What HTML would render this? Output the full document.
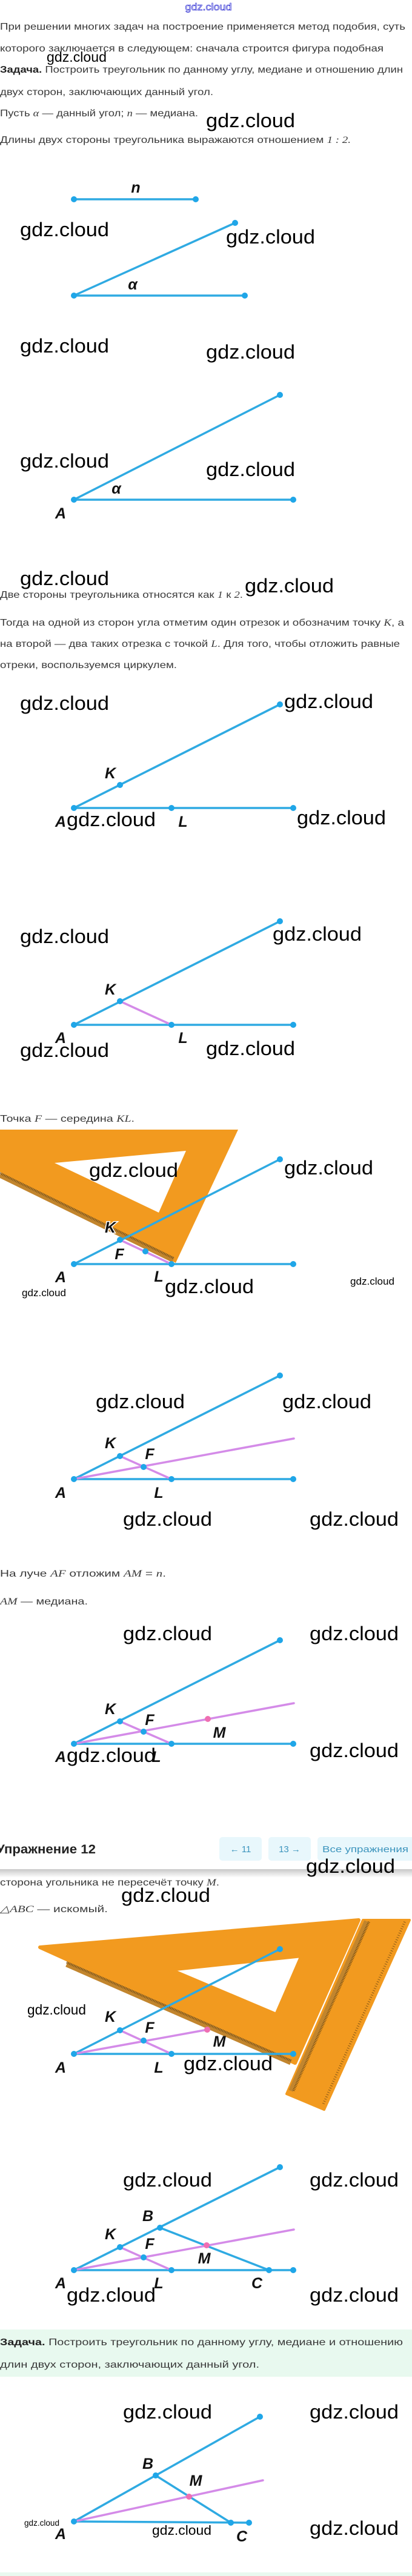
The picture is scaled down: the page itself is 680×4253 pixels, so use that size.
<!DOCTYPE html>
<html><head><meta charset="utf-8"><style>
html,body{margin:0;padding:0;background:#fff;}
svg{display:block;}
.t{font-family:"Liberation Sans","Noto Sans CJK SC",sans-serif;font-size:16px;fill:#3a3a3a;}
.m{font-family:"Liberation Serif",serif;font-style:italic;}
.w{font-family:"Liberation Sans",sans-serif;font-size:32px;fill:#000;}
.ws{font-family:"Liberation Sans",sans-serif;fill:#000;}
.lb{font-family:"Liberation Sans",sans-serif;font-style:italic;font-weight:bold;font-size:25px;fill:#111;text-anchor:middle;}
.b{stroke:#2faae2;stroke-width:3.5;stroke-linecap:round;fill:none;}
.p{stroke:#d48be8;stroke-width:3.5;stroke-linecap:round;fill:none;}
.d{fill:#1fa6e8;}
.pm{fill:#ef6fb2;}
</style></head><body>
<svg width="680" height="4253" viewBox="0 0 680 4253" xmlns="http://www.w3.org/2000/svg">
<rect width="680" height="4253" fill="#fff"/>

<text x="344" y="17" text-anchor="middle" style="font-family:'Liberation Sans',sans-serif;font-size:17px;fill:#fff;stroke:#3b3bd6;stroke-width:0.8" textLength="77" lengthAdjust="spacingAndGlyphs">gdz.cloud</text>

<text class="t" x="0" y="49" textLength="669" lengthAdjust="spacingAndGlyphs">При решении многих задач на построение применяется метод подобия, суть</text>
<text class="t" x="0" y="85" textLength="633" lengthAdjust="spacingAndGlyphs">которого заключается в следующем: сначала строится фигура подобная</text>
<text class="t" x="0" y="120" textLength="665" lengthAdjust="spacingAndGlyphs"><tspan font-weight="bold" fill="#222">Задача.</tspan> Построить треугольник по данному углу, медиане и отношению длин</text>
<text class="t" x="0" y="157" textLength="352" lengthAdjust="spacingAndGlyphs">двух сторон, заключающих данный угол.</text>
<text class="t" x="0" y="192" textLength="327" lengthAdjust="spacingAndGlyphs">Пусть <tspan class="m">α</tspan> — данный угол; <tspan class="m">n</tspan> — медиана.</text>
<text class="t" x="0" y="236" textLength="579" lengthAdjust="spacingAndGlyphs">Длины двух стороны треугольника выражаются отношением <tspan class="m" font-style="normal">1 : 2.</tspan></text>

<line class="b" x1="122" y1="329" x2="323" y2="329"/>
<circle class="d" cx="122" cy="329" r="5"/><circle class="d" cx="323" cy="329" r="5"/>
<text class="lb" x="224" y="318">n</text>
<line class="b" x1="122" y1="488" x2="404" y2="488"/>
<line class="b" x1="122" y1="488" x2="388" y2="368"/>
<circle class="d" cx="122" cy="488" r="5"/><circle class="d" cx="404" cy="488" r="5"/><circle class="d" cx="388" cy="368" r="5"/>
<text class="lb" x="219" y="478">α</text>

<line class="b" x1="122" y1="825" x2="484" y2="825"/>
<line class="b" x1="122" y1="825" x2="462" y2="652"/>
<circle class="d" cx="122" cy="825" r="5"/><circle class="d" cx="484" cy="825" r="5"/><circle class="d" cx="462" cy="652" r="5"/>
<text class="lb" x="192" y="815">α</text>
<text class="lb" x="100" y="856">A</text>

<text class="t" x="0" y="987" textLength="401" lengthAdjust="spacingAndGlyphs">Две стороны треугольника относятся как <tspan class="m" font-style="normal">1</tspan> к <tspan class="m" font-style="normal">2</tspan>.</text>
<text class="t" x="0" y="1033" textLength="667" lengthAdjust="spacingAndGlyphs">Тогда на одной из сторон угла отметим один отрезок и обозначим точку <tspan class="m">K</tspan>, а</text>
<text class="t" x="0" y="1068" textLength="660" lengthAdjust="spacingAndGlyphs">на второй — два таких отрезка с точкой <tspan class="m">L</tspan>. Для того, чтобы отложить равные</text>
<text class="t" x="0" y="1103" textLength="292" lengthAdjust="spacingAndGlyphs">отреки, воспользуемся циркулем.</text>

<line class="b" x1="122" y1="1334" x2="484" y2="1334"/>
<line class="b" x1="122" y1="1334" x2="462" y2="1163"/>
<circle class="d" cx="122" cy="1334" r="5"/><circle class="d" cx="283" cy="1334" r="5"/><circle class="d" cx="484" cy="1334" r="5"/><circle class="d" cx="462" cy="1163" r="5"/><circle class="d" cx="198" cy="1296" r="5"/>
<text class="lb" x="182" y="1285">K</text>
<text class="lb" x="100" y="1365">A</text>
<text class="lb" x="302" y="1365">L</text>

<line class="b" x1="122" y1="1692" x2="484" y2="1692"/>
<line class="b" x1="122" y1="1692" x2="462" y2="1521"/>
<line class="p" x1="198" y1="1653" x2="283" y2="1692"/>
<circle class="d" cx="122" cy="1692" r="5"/><circle class="d" cx="283" cy="1692" r="5"/><circle class="d" cx="484" cy="1692" r="5"/><circle class="d" cx="462" cy="1521" r="5"/><circle class="d" cx="198" cy="1653" r="5"/>
<text class="lb" x="182" y="1642">K</text>
<text class="lb" x="100" y="1722">A</text>
<text class="lb" x="302" y="1722">L</text>

<text class="t" x="0" y="1852" textLength="222" lengthAdjust="spacingAndGlyphs">Точка <tspan class="m">F</tspan> — середина <tspan class="m">KL</tspan>.</text>

<path d="M0,1865 L393,1865 L290,2085 L0,1935 Z M90,1920 L307,1900 L262,2002 Z" fill="#f29a1f" fill-rule="evenodd"/>
<line x1="0" y1="1940" x2="286" y2="2080" stroke="#c2852d" stroke-width="9"/>
<line x1="0" y1="1937" x2="286" y2="2077" stroke="#6d4a16" stroke-width="4" stroke-dasharray="1 1.6"/>
<line class="b" x1="122" y1="2087" x2="484" y2="2087"/>
<line class="b" x1="122" y1="2087" x2="462" y2="1914"/>
<line class="p" x1="198" y1="2047" x2="283" y2="2087"/>
<circle class="d" cx="122" cy="2087" r="5"/><circle class="d" cx="283" cy="2087" r="5"/><circle class="d" cx="484" cy="2087" r="5"/><circle class="d" cx="462" cy="1914" r="5"/><circle class="d" cx="198" cy="2047" r="5"/><circle class="d" cx="240" cy="2066" r="5"/>
<text class="lb" x="182" y="2035" stroke="#fff" stroke-width="3" paint-order="stroke">K</text>
<text class="lb" x="197" y="2079">F</text>
<text class="lb" x="100" y="2117">A</text>
<text class="lb" x="262" y="2116">L</text>

<line class="b" x1="122" y1="2442" x2="484" y2="2442"/>
<line class="b" x1="122" y1="2442" x2="462" y2="2271"/>
<line class="p" x1="122" y1="2442" x2="485" y2="2375"/>
<line class="p" x1="198" y1="2404" x2="283" y2="2442"/>
<circle class="d" cx="122" cy="2442" r="5"/><circle class="d" cx="283" cy="2442" r="5"/><circle class="d" cx="484" cy="2442" r="5"/><circle class="d" cx="462" cy="2271" r="5"/><circle class="d" cx="198" cy="2404" r="5"/><circle class="d" cx="237" cy="2422" r="5"/>
<text class="lb" x="182" y="2391">K</text>
<text class="lb" x="247" y="2409">F</text>
<text class="lb" x="100" y="2473">A</text>
<text class="lb" x="262" y="2473">L</text>

<text class="t" x="0" y="2603" textLength="274" lengthAdjust="spacingAndGlyphs">На луче <tspan class="m">AF</tspan> отложим <tspan class="m">AM</tspan> = <tspan class="m">n</tspan>.</text>
<text class="t" x="0" y="2649" textLength="145" lengthAdjust="spacingAndGlyphs"><tspan class="m">AM</tspan> — медиана.</text>

<line class="b" x1="122" y1="2879" x2="484" y2="2879"/>
<line class="b" x1="122" y1="2879" x2="462" y2="2708"/>
<line class="p" x1="122" y1="2879" x2="485" y2="2812"/>
<line class="p" x1="198" y1="2842" x2="283" y2="2879"/>
<circle class="d" cx="122" cy="2879" r="5"/><circle class="d" cx="283" cy="2879" r="5"/><circle class="d" cx="484" cy="2879" r="5"/><circle class="d" cx="462" cy="2708" r="5"/><circle class="d" cx="198" cy="2842" r="5"/><circle class="d" cx="237" cy="2859" r="5"/><circle class="pm" cx="343" cy="2838" r="5"/>
<text class="lb" x="182" y="2830">K</text>
<text class="lb" x="247" y="2848">F</text>
<text class="lb" x="362" y="2869">M</text>
<text class="lb" x="100" y="2909">A</text>
<text class="lb" x="258" y="2909">L</text>

<text x="-6" y="3060" style="font-family:'Liberation Sans',sans-serif;font-size:21px;font-weight:bold;fill:#222" textLength="164" lengthAdjust="spacingAndGlyphs">Упражнение 12</text>
<rect x="362" y="3033" width="70" height="39" rx="5" fill="#e8f7fc"/>
<rect x="443" y="3033" width="70" height="39" rx="5" fill="#e8f7fc"/>
<rect x="524" y="3033" width="160" height="39" rx="5" fill="#e8f7fc"/>
<g style="font-family:'Liberation Sans',sans-serif;font-size:15px;fill:#3c94bd">
<text x="397" y="3058" text-anchor="middle">← 11</text>
<text x="478" y="3058" text-anchor="middle">13 →</text>
<text x="532" y="3058" textLength="142" lengthAdjust="spacingAndGlyphs">Все упражнения</text>
</g>
<defs><linearGradient id="sh" x1="0" y1="0" x2="0" y2="1"><stop offset="0" stop-color="#c8c8c8"/><stop offset="1" stop-color="#fff"/></linearGradient></defs>
<rect x="0" y="3086" width="680" height="14" fill="url(#sh)"/>

<text class="t" x="0" y="3113" textLength="362" lengthAdjust="spacingAndGlyphs">сторона угольника не пересечёт точку <tspan class="m">M</tspan>.</text>
<text class="t" x="0" y="3157" textLength="178" lengthAdjust="spacingAndGlyphs"><tspan class="m">△ABC</tspan> — искомый.</text>

<path d="M66,3215 L592,3170 L487,3406 Z M281,3252 L498,3229 L456,3326 Z" fill="#f29a1f" fill-rule="evenodd" stroke="#f29a1f" stroke-width="6" stroke-linejoin="round"/>
<line x1="110" y1="3243" x2="480" y2="3405" stroke="#c2852d" stroke-width="9"/>
<line x1="110" y1="3240" x2="480" y2="3402" stroke="#6d4a16" stroke-width="4" stroke-dasharray="1 1.6"/>
<path d="M599,3170 L676,3170 L535,3483 L473,3457 Z" fill="#f29a1f" stroke="#f29a1f" stroke-width="4" stroke-linejoin="round"/>
<line x1="605" y1="3172" x2="480" y2="3452" stroke="#c2852d" stroke-width="8"/>
<line x1="609" y1="3173" x2="484" y2="3453" stroke="#6d4a16" stroke-width="4" stroke-dasharray="1 1.6"/>
<line x1="668" y1="3173" x2="533" y2="3475" stroke="#8a5a18" stroke-width="4" stroke-dasharray="1 3"/>
<line class="b" x1="122" y1="3391" x2="484" y2="3391"/>
<line class="b" x1="122" y1="3391" x2="462" y2="3218"/>
<line class="p" x1="122" y1="3391" x2="342" y2="3351"/>
<line class="p" x1="198" y1="3352" x2="283" y2="3391"/>
<circle class="d" cx="122" cy="3391" r="5"/><circle class="d" cx="283" cy="3391" r="5"/><circle class="d" cx="484" cy="3391" r="5"/><circle class="d" cx="462" cy="3218" r="5"/><circle class="d" cx="198" cy="3352" r="5"/><circle class="d" cx="237" cy="3369" r="5"/><circle class="pm" cx="342" cy="3351" r="5"/>
<text class="lb" x="182" y="3338">K</text>
<text class="lb" x="247" y="3356">F</text>
<text class="lb" x="362" y="3379">M</text>
<text class="lb" x="100" y="3422">A</text>
<text class="lb" x="262" y="3422">L</text>

<line class="b" x1="122" y1="3748" x2="484" y2="3748"/>
<line class="b" x1="122" y1="3748" x2="462" y2="3578"/>
<line class="b" x1="264" y1="3678" x2="444" y2="3748"/>
<line class="p" x1="122" y1="3748" x2="485" y2="3681"/>
<line class="p" x1="198" y1="3710" x2="283" y2="3748"/>
<circle class="d" cx="122" cy="3748" r="5"/><circle class="d" cx="283" cy="3748" r="5"/><circle class="d" cx="444" cy="3748" r="5"/><circle class="d" cx="484" cy="3748" r="5"/><circle class="d" cx="462" cy="3578" r="5"/><circle class="d" cx="198" cy="3710" r="5"/><circle class="d" cx="237" cy="3727" r="5"/><circle class="d" cx="264" cy="3678" r="5"/><circle class="pm" cx="341" cy="3707" r="5"/>
<text class="lb" x="244" y="3667">B</text>
<text class="lb" x="182" y="3697">K</text>
<text class="lb" x="247" y="3713">F</text>
<text class="lb" x="337" y="3737">M</text>
<text class="lb" x="100" y="3778">A</text>
<text class="lb" x="262" y="3778">L</text>
<text class="lb" x="424" y="3778">C</text>

<rect x="0" y="3846" width="680" height="78" fill="#e8f9ef"/>
<text class="t" x="0" y="3872" textLength="665" lengthAdjust="spacingAndGlyphs"><tspan font-weight="bold" fill="#222">Задача.</tspan> Построить треугольник по данному углу, медиане и отношению</text>
<text class="t" x="0" y="3909" textLength="428" lengthAdjust="spacingAndGlyphs">длин двух сторон, заключающих данный угол.</text>

<line class="b" x1="122" y1="4163" x2="411" y2="4165"/>
<line class="b" x1="122" y1="4163" x2="429" y2="3990"/>
<line class="b" x1="257" y1="4087" x2="381" y2="4165"/>
<line class="p" x1="122" y1="4163" x2="434" y2="4095"/>
<circle class="d" cx="122" cy="4163" r="5"/><circle class="d" cx="381" cy="4165" r="5"/><circle class="d" cx="411" cy="4165" r="5"/><circle class="d" cx="429" cy="3990" r="5"/><circle class="d" cx="257" cy="4087" r="5"/><circle class="pm" cx="312" cy="4122" r="5"/>
<text class="lb" x="244" y="4076">B</text>
<text class="lb" x="323" y="4104">M</text>
<text class="lb" x="100" y="4192">A</text>
<text class="lb" x="399" y="4196">C</text>

<rect x="0" y="4247" width="680" height="6" fill="#e8f9ef"/>

<g class="w">
<text x="340" y="210" textLength="147" lengthAdjust="spacingAndGlyphs">gdz.cloud</text>
<text x="33" y="390" textLength="147" lengthAdjust="spacingAndGlyphs">gdz.cloud</text>
<text x="373" y="402" textLength="147" lengthAdjust="spacingAndGlyphs">gdz.cloud</text>
<text x="33" y="582" textLength="147" lengthAdjust="spacingAndGlyphs">gdz.cloud</text>
<text x="340" y="592" textLength="147" lengthAdjust="spacingAndGlyphs">gdz.cloud</text>
<text x="33" y="772" textLength="147" lengthAdjust="spacingAndGlyphs">gdz.cloud</text>
<text x="340" y="786" textLength="147" lengthAdjust="spacingAndGlyphs">gdz.cloud</text>
<text x="33" y="966" textLength="147" lengthAdjust="spacingAndGlyphs">gdz.cloud</text>
<text x="404" y="978" textLength="147" lengthAdjust="spacingAndGlyphs">gdz.cloud</text>
<text x="33" y="1172" textLength="147" lengthAdjust="spacingAndGlyphs">gdz.cloud</text>
<text x="469" y="1169" textLength="147" lengthAdjust="spacingAndGlyphs">gdz.cloud</text>
<text x="110" y="1364" textLength="147" lengthAdjust="spacingAndGlyphs">gdz.cloud</text>
<text x="490" y="1361" textLength="147" lengthAdjust="spacingAndGlyphs">gdz.cloud</text>
<text x="33" y="1557" textLength="147" lengthAdjust="spacingAndGlyphs">gdz.cloud</text>
<text x="450" y="1553" textLength="147" lengthAdjust="spacingAndGlyphs">gdz.cloud</text>
<text x="33" y="1745" textLength="147" lengthAdjust="spacingAndGlyphs">gdz.cloud</text>
<text x="340" y="1742" textLength="147" lengthAdjust="spacingAndGlyphs">gdz.cloud</text>
<text x="147" y="1943" textLength="147" lengthAdjust="spacingAndGlyphs">gdz.cloud</text>
<text x="469" y="1939" textLength="147" lengthAdjust="spacingAndGlyphs">gdz.cloud</text>
<text x="272" y="2135" textLength="147" lengthAdjust="spacingAndGlyphs">gdz.cloud</text>
<text x="158" y="2325" textLength="147" lengthAdjust="spacingAndGlyphs">gdz.cloud</text>
<text x="466" y="2325" textLength="147" lengthAdjust="spacingAndGlyphs">gdz.cloud</text>
<text x="203" y="2519" textLength="147" lengthAdjust="spacingAndGlyphs">gdz.cloud</text>
<text x="511" y="2519" textLength="147" lengthAdjust="spacingAndGlyphs">gdz.cloud</text>
<text x="203" y="2708" textLength="147" lengthAdjust="spacingAndGlyphs">gdz.cloud</text>
<text x="511" y="2708" textLength="147" lengthAdjust="spacingAndGlyphs">gdz.cloud</text>
<text x="110" y="2909" textLength="147" lengthAdjust="spacingAndGlyphs">gdz.cloud</text>
<text x="511" y="2901" textLength="147" lengthAdjust="spacingAndGlyphs">gdz.cloud</text>
<text x="505" y="3092" textLength="147" lengthAdjust="spacingAndGlyphs">gdz.cloud</text>
<text x="200" y="3140" textLength="147" lengthAdjust="spacingAndGlyphs">gdz.cloud</text>
<text x="303" y="3418" textLength="147" lengthAdjust="spacingAndGlyphs">gdz.cloud</text>
<text x="203" y="3610" textLength="147" lengthAdjust="spacingAndGlyphs">gdz.cloud</text>
<text x="511" y="3610" textLength="147" lengthAdjust="spacingAndGlyphs">gdz.cloud</text>
<text x="110" y="3800" textLength="147" lengthAdjust="spacingAndGlyphs">gdz.cloud</text>
<text x="511" y="3800" textLength="147" lengthAdjust="spacingAndGlyphs">gdz.cloud</text>
<text x="203" y="3993" textLength="147" lengthAdjust="spacingAndGlyphs">gdz.cloud</text>
<text x="511" y="3993" textLength="147" lengthAdjust="spacingAndGlyphs">gdz.cloud</text>
<text x="511" y="4185" textLength="147" lengthAdjust="spacingAndGlyphs">gdz.cloud</text>
</g>
<g class="ws">
<text x="77" y="102" font-size="23" textLength="99" lengthAdjust="spacingAndGlyphs">gdz.cloud</text>
<text x="36" y="2140" font-size="17" textLength="73" lengthAdjust="spacingAndGlyphs">gdz.cloud</text>
<text x="578" y="2121" font-size="17" textLength="73" lengthAdjust="spacingAndGlyphs">gdz.cloud</text>
<text x="45" y="3326" font-size="23" textLength="97" lengthAdjust="spacingAndGlyphs">gdz.cloud</text>
<text x="40" y="4170" font-size="14" textLength="58" lengthAdjust="spacingAndGlyphs">gdz.cloud</text>
<text x="251" y="4185" font-size="22" textLength="98" lengthAdjust="spacingAndGlyphs">gdz.cloud</text>
</g>
</svg>
</body></html>
